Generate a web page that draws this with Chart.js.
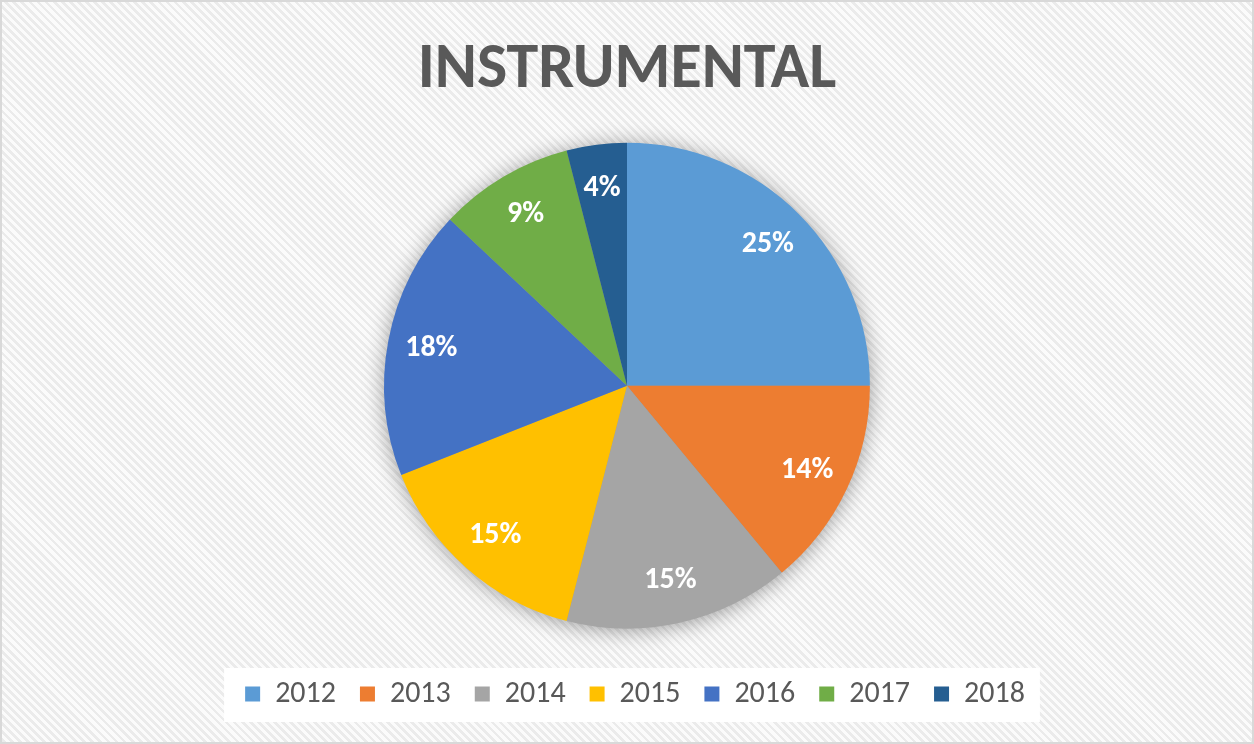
<!DOCTYPE html>
<html>
<head>
<meta charset="utf-8">
<script src="https://cdn.jsdelivr.net/npm/chart.js@4.4.1/dist/chart.umd.min.js"></script>
<style>
  html, body { margin: 0; padding: 0; }
  body {
    width: 1254px; height: 744px; overflow: hidden;
    background: repeating-linear-gradient(45deg, #fbfbfb 0px, #fbfbfb 3px, #ebebeb 3px, #ebebeb 5.7px);
  }
  .wrap {
    position: absolute; left: 0; top: 0; width: 1250px; height: 740px;
    border: 2px solid #d9d9d9;
  }
  canvas { display: block; }
</style>
</head>
<body>
<div class="wrap"><canvas id="pie" width="1250" height="740"></canvas></div>
<script>
// ── data ─────────────────────────────
const YEARS  = ['2012', '2013', '2014', '2015', '2016', '2017', '2018'];
const SHARES = [25, 14, 15, 15, 18, 9, 4];
const COLORS = ['#5B9BD5', '#ED7D31', '#A5A5A5', '#FFC000', '#4472C4', '#70AD47', '#255E91'];
const TITLE  = 'INSTRUMENTAL';

const FONT = "Carlito, 'Open Sans', sans-serif";

// soft shadow under the pie
const pieShadow = {
  id: 'pieShadow',
  beforeDatasetsDraw(chart) {
    const arc = chart.getDatasetMeta(0).data[0];
    if (!arc) return;
    const { x, y, outerRadius } = arc.getProps(['x', 'y', 'outerRadius'], true);
    const ctx = chart.ctx;
    ctx.save();
    ctx.shadowColor = 'rgba(0,0,0,0.4)';
    ctx.shadowBlur = 22;
    ctx.shadowOffsetY = 2;
    ctx.fillStyle = '#999';
    ctx.beginPath();
    ctx.arc(x, y, outerRadius - 1, 0, Math.PI * 2);
    ctx.fill();
    ctx.restore();
  }
};

// nudge the legend row a little to the right, and put a white band behind it
const legendBand = {
  id: 'legendBand',
  afterLayout(chart) {
    if (!chart.legend) return;
    chart.legend.left += 8;
    chart.legend.right += 8;
  },
  beforeDraw(chart) {
    const boxes = chart.legend && chart.legend.legendHitBoxes;
    if (!boxes || !boxes.length) return;
    const first = boxes[0], last = boxes[boxes.length - 1];
    const mid = first.top + first.height / 2;
    const ctx = chart.ctx;
    ctx.save();
    ctx.fillStyle = '#ffffff';
    ctx.fillRect(first.left - 21, mid - 26, last.left + last.width + 36 - first.left, 54);
    ctx.restore();
  }
};

// percentage labels inside slices
const sliceLabels = {
  id: 'sliceLabels',
  afterDatasetsDraw(chart) {
    const ctx = chart.ctx;
    ctx.save();
    ctx.font = `bold 30px ${FONT}`;
    ctx.fillStyle = '#ffffff';
    ctx.textAlign = 'center';
    ctx.textBaseline = 'middle';
    chart.getDatasetMeta(0).data.forEach((arc, i) => {
      const p = arc.getProps(['x', 'y', 'startAngle', 'endAngle', 'outerRadius'], true);
      const mid = (p.startAngle + p.endAngle) / 2;
      const r = p.outerRadius * 0.82;
      ctx.fillText(SHARES[i] + '%', p.x + Math.cos(mid) * r, p.y + Math.sin(mid) * r);
    });
    ctx.restore();
  }
};

new Chart(document.getElementById('pie').getContext('2d'), {
  type: 'pie',
  data: {
    labels: YEARS,
    datasets: [{
      data: SHARES,
      backgroundColor: COLORS,
      borderWidth: 0,
    }],
  },
  options: {
    responsive: false,
    animation: false,
    layout: { padding: { top: 0, bottom: 23, left: 0, right: 0 } },
    plugins: {
      title: {
        display: true,
        text: TITLE,
        color: '#595959',
        font: { family: FONT, size: 64, weight: 'bold' },
        padding: { top: 31, bottom: 33 },
      },
      legend: {
        position: 'bottom',
        title: { display: true, text: ' ', font: { size: 22 }, padding: 0 },
        labels: {
          color: '#595959',
          font: { family: FONT, size: 30 },
          boxWidth: 15,
          boxHeight: 15,
          padding: 24,
        },
      },
      tooltip: { enabled: false },
    },
  },
  plugins: [pieShadow, legendBand, sliceLabels],
});
</script>
</body>
</html>
